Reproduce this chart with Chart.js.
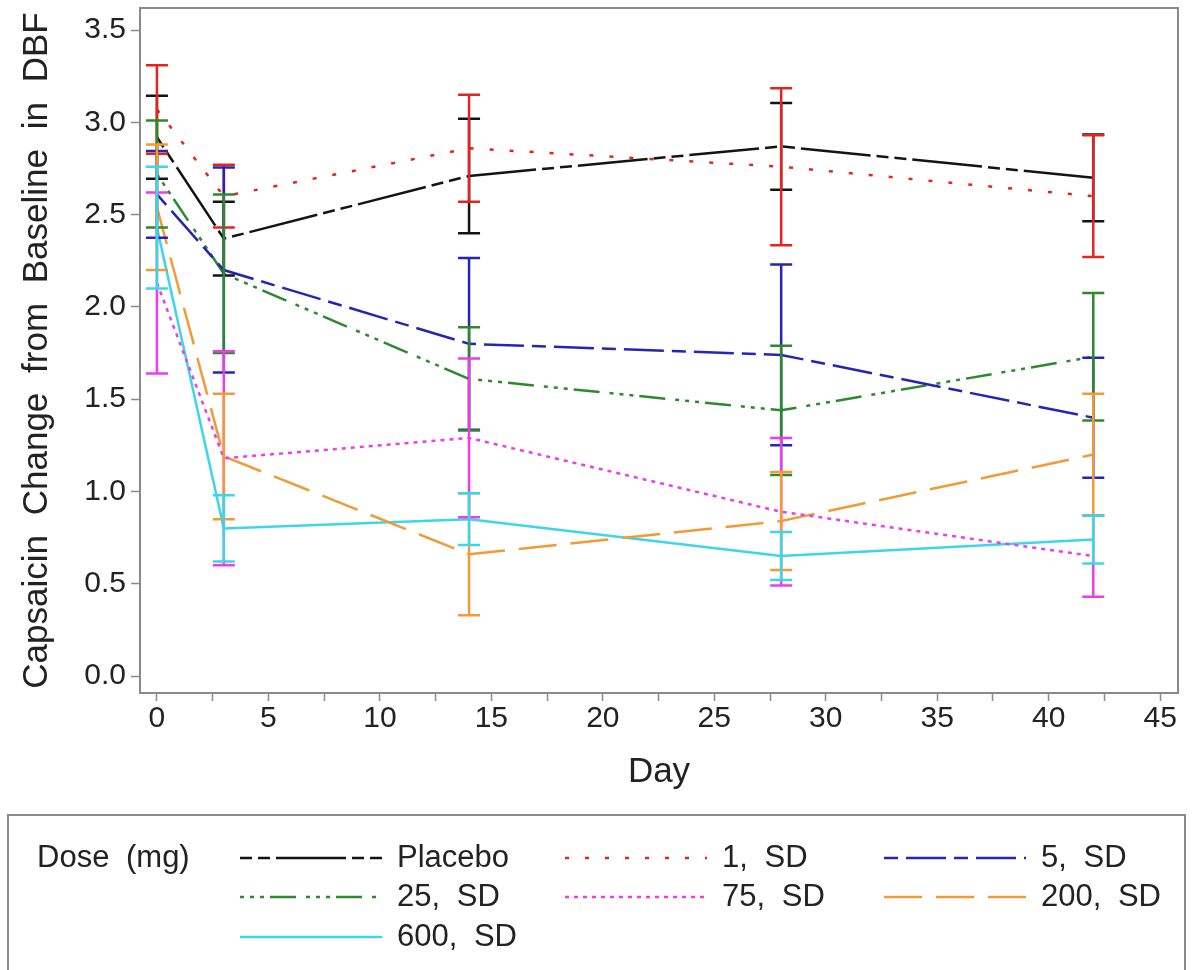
<!DOCTYPE html>
<html>
<head>
<meta charset="utf-8">
<title>Capsaicin Change from Baseline in DBF</title>
<script src="https://cdn.jsdelivr.net/npm/chart.js@4.4.0/dist/chart.umd.min.js"></script>
<style>
  html, body { margin: 0; padding: 0; background: #fff; }
  #wrap { width: 1193px; height: 970px; }
</style>
</head>
<body>
<div id="wrap"><canvas id="doseChart" width="1193" height="970"></canvas></div>
<script>
// study days and dose groups
const days = [0, 3, 14, 28, 42];
const doseLabels = ['Placebo', '1, SD', '5, SD', '25, SD', '75, SD', '200, SD', '600, SD'];

// mean values per group
const placeboMean = [2.92, 2.37, 2.71, 2.87, 2.70];
const sd1Mean     = [3.07, 2.60, 2.86, 2.76, 2.60];
const sd5Mean     = [2.61, 2.20, 1.80, 1.74, 1.40];
const sd25Mean    = [2.72, 2.18, 1.61, 1.44, 1.73];
const sd75Mean    = [2.13, 1.18, 1.29, 0.89, 0.65];
const sd200Mean   = [2.54, 1.19, 0.66, 0.84, 1.20];
const sd600Mean   = [2.43, 0.80, 0.85, 0.65, 0.74];

// standard deviations (half length of the error bars)
const placeboSd = [0.225, 0.20, 0.31, 0.235, 0.235];
const sd1Sd     = [0.24, 0.17, 0.29, 0.425, 0.33];
const sd5Sd     = [0.235, 0.555, 0.465, 0.49, 0.325];
const sd25Sd    = [0.29, 0.43, 0.28, 0.35, 0.345];
const sd75Sd    = [0.49, 0.58, 0.43, 0.40, 0.22];
const sd200Sd   = [0.34, 0.34, 0.33, 0.265, 0.33];
const sd600Sd   = [0.33, 0.18, 0.14, 0.13, 0.13];

// axis ticks
const xTickValues = [0, 2.5, 5, 7.5, 10, 12.5, 15, 17.5, 20, 22.5, 25, 27.5, 30, 32.5, 35, 37.5, 40, 42.5, 45];
const xTickLabels = ['0', '', '5', '', '10', '', '15', '', '20', '', '25', '', '30', '', '35', '', '40', '', '45'];
const yTickValues = [0, 0.5, 1, 1.5, 2, 2.5, 3, 3.5];
const yTickLabels = ['0.0', '0.5', '1.0', '1.5', '2.0', '2.5', '3.0', '3.5'];

const means = [placeboMean, sd1Mean, sd5Mean, sd25Mean, sd75Mean, sd200Mean, sd600Mean];
const sds = [placeboSd, sd1Sd, sd5Sd, sd25Sd, sd75Sd, sd200Sd, sd600Sd];

const colors = ['#141414', '#e3241f', '#2424b8', '#2c8a2c', '#ec3cec', '#f29a36', '#3cd6ea'];
const dashes = [
    [12, 6, 12, 6, 70, 6],
    [4, 16],
    [14, 8, 40, 8],
    [4, 6, 4, 6, 4, 6, 26, 10],
    [4, 5],
    [38, 14],
    []
];

const FONT = "'Liberation Sans', Arial, sans-serif";
const GREY = '#8a8a8a';
const TEXT = '#222';

Chart.defaults.font.family = FONT;
Chart.defaults.color = TEXT;

// wider word gaps, like the original figure
const wideSpaces = {
    id: 'wideSpaces',
    beforeDraw(chart) {
        chart.ctx.wordSpacing = '10px';
    }
};

// error bars + plot frame
const errorBars = {
    id: 'errorBars',
    afterDatasetsDraw(chart) {
        const ctx = chart.ctx;
        const x = chart.scales.x;
        const y = chart.scales.y;
        const cap = 11;
        ctx.save();
        ctx.lineWidth = 2.5;
        ctx.setLineDash([]);
        chart.data.datasets.forEach((ds, i) => {
            ctx.strokeStyle = ds.borderColor;
            days.forEach((d, j) => {
                const px = x.getPixelForValue(d);
                const top = y.getPixelForValue(means[i][j] + sds[i][j]);
                const bot = y.getPixelForValue(means[i][j] - sds[i][j]);
                ctx.beginPath();
                ctx.moveTo(px, top);
                ctx.lineTo(px, bot);
                ctx.moveTo(px - cap, top);
                ctx.lineTo(px + cap, top);
                ctx.moveTo(px - cap, bot);
                ctx.lineTo(px + cap, bot);
                ctx.stroke();
            });
        });
        // frame round the plot area
        const a = chart.chartArea;
        ctx.strokeStyle = GREY;
        ctx.lineWidth = 2;
        ctx.strokeRect(a.left, a.top, a.right - a.left, a.bottom - a.top);
        ctx.restore();
    }
};

// legend box at the bottom
const doseLegend = {
    id: 'doseLegend',
    afterDraw(chart) {
        const ctx = chart.ctx;
        const lineX = [240, 565, 884];
        const rowY = [858, 897, 937];
        const lineLen = 142;
        ctx.save();
        ctx.wordSpacing = '8px';
        ctx.strokeStyle = GREY;
        ctx.lineWidth = 2;
        ctx.setLineDash([]);
        ctx.strokeRect(8, 815, 1177, 200);

        ctx.fillStyle = TEXT;
        ctx.font = '31px ' + FONT;
        ctx.textBaseline = 'middle';
        ctx.fillText('Dose (mg)', 37, rowY[0]);

        chart.data.datasets.forEach((ds, i) => {
            const col = i % 3;
            const row = Math.floor(i / 3);
            const lx = lineX[col];
            const ly = rowY[row];
            ctx.strokeStyle = ds.borderColor;
            ctx.lineWidth = 2.5;
            ctx.setLineDash(ds.borderDash);
            ctx.beginPath();
            ctx.moveTo(lx, ly);
            ctx.lineTo(lx + lineLen, ly);
            ctx.stroke();
            ctx.setLineDash([]);
            ctx.fillStyle = TEXT;
            ctx.fillText(ds.label, lx + lineLen + 15, ly);
        });
        ctx.restore();
    }
};

const datasets = doseLabels.map((label, i) => ({
    label: label,
    data: days.map((d, j) => ({ x: d, y: means[i][j] })),
    borderColor: colors[i],
    backgroundColor: colors[i],
    borderDash: dashes[i],
    borderWidth: 2.5,
    pointRadius: 0,
    tension: 0,
    fill: false
}));

new Chart(document.getElementById('doseChart'), {
    type: 'line',
    data: { datasets: datasets },
    options: {
        responsive: false,
        animation: false,
        layout: { padding: { left: 0, top: 8, right: 15, bottom: 167 } },
        plugins: {
            legend: { display: false },
            tooltip: { enabled: false }
        },
        scales: {
            x: {
                type: 'linear',
                min: -0.76,
                max: 45.8,
                afterBuildTicks: s => { s.ticks = xTickValues.map(v => ({ value: v })); },
                afterFit: s => { s.height = 110; s.paddingLeft = 0; s.paddingRight = 0; },
                border: { display: false },
                grid: { drawOnChartArea: false, drawTicks: true, tickLength: 8, tickColor: GREY, tickWidth: 1.5 },
                ticks: {
                    autoSkip: false,
                    maxRotation: 0,
                    padding: 0,
                    font: { size: 30 },
                    color: TEXT,
                    callback: (v, idx) => xTickLabels[idx]
                },
                title: { display: true, text: 'Day', font: { size: 35 }, color: TEXT, padding: { top: 0, bottom: 10 } }
            },
            y: {
                type: 'linear',
                min: -0.092,
                max: 3.62,
                afterBuildTicks: s => { s.ticks = yTickValues.map(v => ({ value: v })); },
                afterFit: s => { s.width = 140; s.paddingTop = 0; s.paddingBottom = 0; },
                border: { display: false },
                grid: { drawOnChartArea: false, drawTicks: true, tickLength: 9, tickColor: GREY, tickWidth: 1.5 },
                ticks: {
                    autoSkip: false,
                    padding: 5,
                    font: { size: 30 },
                    color: TEXT,
                    callback: (v, idx) => yTickLabels[idx]
                },
                title: { display: true, text: 'Capsaicin Change from Baseline in DBF', font: { size: 35 }, color: TEXT, padding: { top: 16, bottom: 0 } }
            }
        }
    },
    plugins: [wideSpaces, errorBars, doseLegend]
});
</script>
</body>
</html>
